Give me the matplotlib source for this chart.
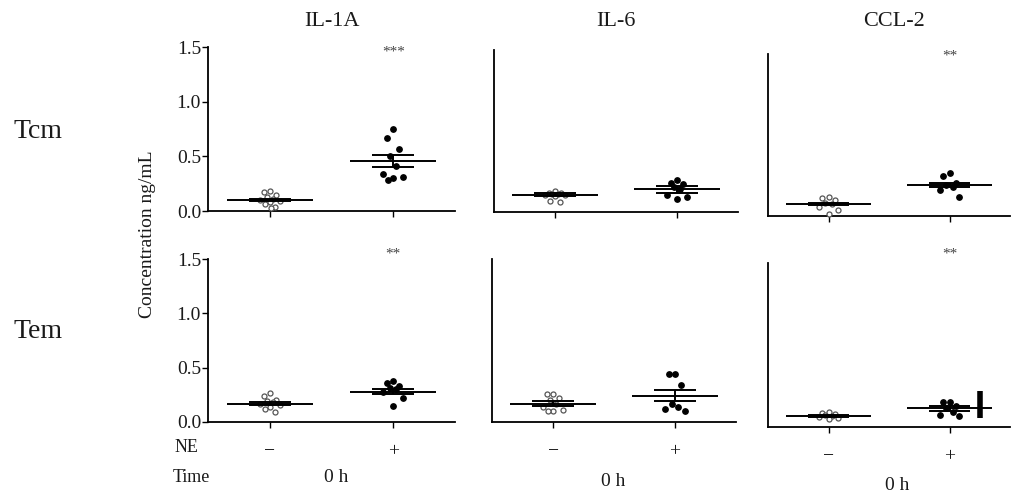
import matplotlib
matplotlib.use("Agg")
import matplotlib.pyplot as plt
from matplotlib.transforms import blended_transform_factory

plt.rcParams['font.family'] = ['Liberation Serif', 'DejaVu Serif']

W, H = 1013, 495

# ---------------- data ----------------
cytokines = ["IL-1A", "IL-6", "CCL-2"]
cell_types = ["Tcm", "Tem"]
ne_labels = ["\u2212", "+"]
time_label = "0 h"

# Tcm row
tcm_il1a_neg = [0.18, 0.17, 0.15, 0.13, 0.11, 0.10, 0.09, 0.08, 0.06, 0.04, 0.03]
tcm_il1a_pos = [0.75, 0.67, 0.57, 0.50, 0.41, 0.34, 0.31, 0.30, 0.28]
tcm_il6_neg = [0.19, 0.18, 0.18, 0.17, 0.17, 0.16, 0.16, 0.15, 0.10, 0.09]
tcm_il6_pos = [0.30, 0.27, 0.26, 0.23, 0.21, 0.16, 0.14, 0.12]
tcm_ccl2_neg = [0.18, 0.17, 0.15, 0.12, 0.11, 0.08, 0.06, 0.02]
tcm_ccl2_pos = [0.40, 0.37, 0.31, 0.29, 0.27, 0.24, 0.18]
# Tem row
tem_il1a_neg = [0.27, 0.24, 0.20, 0.19, 0.18, 0.17, 0.16, 0.14, 0.12, 0.09]
tem_il1a_pos = [0.38, 0.36, 0.33, 0.31, 0.30, 0.28, 0.22, 0.15]
tem_il6_neg = [0.26, 0.26, 0.22, 0.20, 0.17, 0.14, 0.11, 0.10, 0.10]
tem_il6_pos = [0.44, 0.44, 0.34, 0.17, 0.14, 0.12, 0.10]
tem_ccl2_neg = [0.14, 0.13, 0.12, 0.11, 0.10, 0.09, 0.08, 0.07]
tem_ccl2_pos = [0.23, 0.23, 0.19, 0.17, 0.14, 0.11, 0.10]

# mean and SEM per panel: [neg, pos]
tcm_means = [[0.10, 0.46], [0.16, 0.21], [0.11, 0.29]]
tcm_sems = [[0.012, 0.055], [0.015, 0.031], [0.012, 0.02]]
tem_means = [[0.17, 0.28], [0.17, 0.24], [0.10, 0.17]]
tem_sems = [[0.015, 0.02], [0.025, 0.05], [0.01, 0.02]]

tcm_stars = ["***", "", "**"]
tem_stars = ["**", "", "**"]
tcm_star_y = [1.45, None, 1.48]
tem_star_y = [1.55, None, 1.58]

# stray vertical bar in the Tem / CCL-2 panel (x position in data units, y range)
stray_bar_x = 1.25
stray_bar_y = [0.08, 0.33]

y_ticks = [0.0, 0.5, 1.0, 1.5]
y_ticklabels = ["0.0", "0.5", "1.0", "1.5"]

# ---------------- layout ----------------
fig = plt.figure(figsize=(W / 100, H / 100), dpi=100)

def rect(x0, y0, x1, y1):
    return [x0 / W, 1 - y1 / H, (x1 - x0) / W, (y1 - y0) / H]

panel_px = [
    [(208, 47, 455, 211), (494, 50, 738, 212), (768, 54, 1010, 216)],
    [(208, 259, 455, 422), (492, 259, 736, 422), (768, 263, 1010, 427)],
]

rows = [
    dict(data=[(tcm_il1a_neg, tcm_il1a_pos), (tcm_il6_neg, tcm_il6_pos), (tcm_ccl2_neg, tcm_ccl2_pos)],
         means=tcm_means, sems=tcm_sems, stars=tcm_stars, star_y=tcm_star_y),
    dict(data=[(tem_il1a_neg, tem_il1a_pos), (tem_il6_neg, tem_il6_pos), (tem_ccl2_neg, tem_ccl2_pos)],
         means=tem_means, sems=tem_sems, stars=tem_stars, star_y=tem_star_y),
]

jitter = [0.0, -0.05, 0.05, -0.025, 0.025, -0.08, 0.08, 0.0, -0.04, 0.04, 0.012]
text_col = "#1a1a1a"
title_x_shift = [0.0, 0.0, 0.04]

for r, row in enumerate(rows):
    for c in range(3):
        ax = fig.add_axes(rect(*panel_px[r][c]))
        ax.set_xlim(-0.5, 1.5)
        ax.set_ylim(0, 1.5)
        for s in ["top", "right"]:
            ax.spines[s].set_visible(False)
        for s in ["left", "bottom"]:
            ax.spines[s].set_linewidth(1.3)
            ax.spines[s].set_color("black")
        neg, pos = row["data"][c]
        for gi, vals in enumerate([neg, pos]):
            xs = [gi + jitter[i % len(jitter)] for i in range(len(vals))]
            if gi == 0:
                ax.scatter(xs, vals, s=13, facecolors="white", edgecolors="#555555",
                           linewidths=0.9, zorder=3, clip_on=False)
            else:
                ax.scatter(xs, vals, s=15, color="black", zorder=3, clip_on=False)
            m = row["means"][c][gi]
            e = row["sems"][c][gi]
            ax.hlines(m, gi - 0.35, gi + 0.35, color="black", lw=1.4, zorder=4)
            ax.hlines([m - e, m + e], gi - 0.17, gi + 0.17, color="black", lw=1.4, zorder=4)
            ax.vlines(gi, m - e, m + e, color="black", lw=1.4, zorder=4)
        if row["stars"][c]:
            ax.text(1, row["star_y"][c], row["stars"][c], ha="center", va="center",
                    fontsize=11, color="#444444", clip_on=False)
        ax.set_xticks([0, 1])
        ax.tick_params(axis="x", length=4, width=1.0, direction="out")
        if r == 1:
            ax.set_xticklabels(ne_labels, fontsize=14, color=text_col)
            ax.tick_params(axis="x", pad=11)
        else:
            ax.set_xticklabels([])
        if c == 0:
            ax.set_yticks(y_ticks)
            ax.set_yticklabels(y_ticklabels, fontsize=14, color=text_col)
            ax.tick_params(axis="y", length=4, width=1.0, pad=1)
        else:
            ax.set_yticks([])
        if r == 1 and c == 2:
            ax.vlines(stray_bar_x, stray_bar_y[0], stray_bar_y[1], color="black", lw=4, zorder=5)
        if r == 0:
            tr = blended_transform_factory(ax.transData, fig.transFigure)
            ax.text(0.5 + title_x_shift[c], 1 - 22 / H, cytokines[c], transform=tr,
                    ha="center", va="center", fontsize=16, color=text_col)

# row labels
fig.text(13 / W, 1 - 132 / H, cell_types[0], ha="left", va="center", fontsize=20, color=text_col)
fig.text(13 / W, 1 - 332 / H, cell_types[1], ha="left", va="center", fontsize=20, color=text_col)

# y label
fig.text(148 / W, 1 - 234 / H, "Concentration ng/mL", rotation=90, ha="center", va="center",
         fontsize=14, color=text_col)

# NE / Time row
fig.text(175 / W, 1 - 448 / H, "NE", ha="left", va="center", fontsize=13, color=text_col)
fig.text(173 / W, 1 - 477 / H, "Time", ha="left", va="center", fontsize=13, color=text_col)
for (x, y) in [(336, 477), (613, 482), (897, 485)]:
    fig.text(x / W, 1 - y / H, time_label, ha="center", va="center", fontsize=14, color=text_col)

fig.savefig("out.png", dpi=100, facecolor="white")
